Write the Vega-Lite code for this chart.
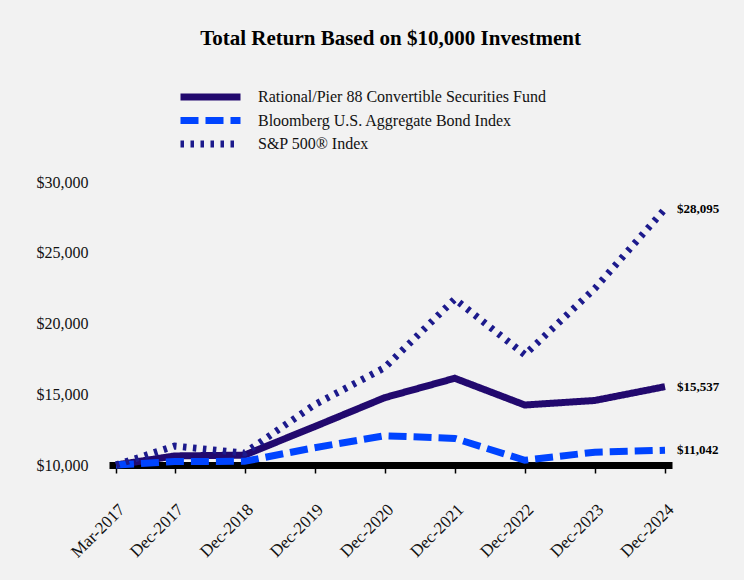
{
  "$schema": "https://vega.github.io/schema/vega-lite/v6.json",
  "width": 563,
  "height": 283,
  "autosize": "none",
  "padding": {"left": 109, "top": 182, "right": 72, "bottom": 115},
  "background": "#f2f2f2",
  "title": {"text": "Total Return Based on $10,000 Investment", "font": "Liberation Serif", "fontSize": 21, "fontWeight": "bold", "color": "#000000", "anchor": "middle", "offset": 40},
  "config": {"view": {"stroke": null}, "font": "Liberation Serif"},
  "data": {
    "format": {"parse": {"date": "date"}},
    "values": [
      {"date": "2017-03-01T00:00:00", "series": "Rational/Pier 88 Convertible Securities Fund", "value": 10000},
      {"date": "2017-12-31T00:00:00", "series": "Rational/Pier 88 Convertible Securities Fund", "value": 10640},
      {"date": "2018-12-31T00:00:00", "series": "Rational/Pier 88 Convertible Securities Fund", "value": 10700},
      {"date": "2019-12-31T00:00:00", "series": "Rational/Pier 88 Convertible Securities Fund", "value": 12710},
      {"date": "2020-12-31T00:00:00", "series": "Rational/Pier 88 Convertible Securities Fund", "value": 14760},
      {"date": "2021-12-31T00:00:00", "series": "Rational/Pier 88 Convertible Securities Fund", "value": 16130},
      {"date": "2022-12-31T00:00:00", "series": "Rational/Pier 88 Convertible Securities Fund", "value": 14240},
      {"date": "2023-12-31T00:00:00", "series": "Rational/Pier 88 Convertible Securities Fund", "value": 14560},
      {"date": "2024-12-31T00:00:00", "series": "Rational/Pier 88 Convertible Securities Fund", "value": 15537},
      {"date": "2017-03-01T00:00:00", "series": "Bloomberg U.S. Aggregate Bond Index", "value": 10000},
      {"date": "2017-12-31T00:00:00", "series": "Bloomberg U.S. Aggregate Bond Index", "value": 10250},
      {"date": "2018-12-31T00:00:00", "series": "Bloomberg U.S. Aggregate Bond Index", "value": 10260},
      {"date": "2019-12-31T00:00:00", "series": "Bloomberg U.S. Aggregate Bond Index", "value": 11223},
      {"date": "2020-12-31T00:00:00", "series": "Bloomberg U.S. Aggregate Bond Index", "value": 12066},
      {"date": "2021-12-31T00:00:00", "series": "Bloomberg U.S. Aggregate Bond Index", "value": 11880},
      {"date": "2022-12-31T00:00:00", "series": "Bloomberg U.S. Aggregate Bond Index", "value": 10334},
      {"date": "2023-12-31T00:00:00", "series": "Bloomberg U.S. Aggregate Bond Index", "value": 10906},
      {"date": "2024-12-31T00:00:00", "series": "Bloomberg U.S. Aggregate Bond Index", "value": 11042},
      {"date": "2017-03-01T00:00:00", "series": "S&P 500® Index", "value": 10000},
      {"date": "2017-12-31T00:00:00", "series": "S&P 500® Index", "value": 11340},
      {"date": "2018-12-31T00:00:00", "series": "S&P 500® Index", "value": 10844},
      {"date": "2019-12-31T00:00:00", "series": "S&P 500® Index", "value": 14258},
      {"date": "2020-12-31T00:00:00", "series": "S&P 500® Index", "value": 16882},
      {"date": "2021-12-31T00:00:00", "series": "S&P 500® Index", "value": 21729},
      {"date": "2022-12-31T00:00:00", "series": "S&P 500® Index", "value": 17794},
      {"date": "2023-12-31T00:00:00", "series": "S&P 500® Index", "value": 22472},
      {"date": "2024-12-31T00:00:00", "series": "S&P 500® Index", "value": 28095}
    ]
  },
  "encoding": {
    "x": {
      "field": "date", "type": "temporal",
      "scale": {"padding": 7},
      "axis": {
        "title": null, "grid": false, "zindex": 0,
        "domain": true, "domainColor": "#000000", "domainWidth": 7,
        "ticks": true, "tickColor": "#000000", "tickSize": 8, "tickWidth": 1.5,
        "labelAngle": -45, "labelFontSize": 17, "labelColor": "#111111", "labelPadding": 28,
        "labelOverlap": false,
        "format": "%b-%Y",
        "values": [
          {"year": 2017, "month": 3, "date": 1},
          {"year": 2017, "month": 12, "date": 31},
          {"year": 2018, "month": 12, "date": 31},
          {"year": 2019, "month": 12, "date": 31},
          {"year": 2020, "month": 12, "date": 31},
          {"year": 2021, "month": 12, "date": 31},
          {"year": 2022, "month": 12, "date": 31},
          {"year": 2023, "month": 12, "date": 31},
          {"year": 2024, "month": 12, "date": 31}
        ]
      }
    },
    "y": {
      "field": "value", "type": "quantitative",
      "scale": {"domain": [10000, 30000], "nice": false, "zero": false},
      "axis": {
        "title": null, "grid": false, "domain": false, "ticks": false,
        "values": [10000, 15000, 20000, 25000, 30000],
        "format": "$,.0f", "labelFontSize": 16, "labelColor": "#111111", "labelPadding": 21
      }
    }
  },
  "layer": [
    {
      "mark": {"type": "line", "strokeWidth": 7, "strokeCap": "butt", "clip": false},
      "encoding": {
        "color": {
          "field": "series", "type": "nominal",
          "scale": {
            "domain": ["Rational/Pier 88 Convertible Securities Fund", "Bloomberg U.S. Aggregate Bond Index", "S&P 500® Index"],
            "range": ["#22096e", "#0044ff", "#1c1a8c"]
          },
          "legend": {"orient": "none", "legendX": 68, "legendY": -93, "title": null, "symbolType": "stroke", "symbolSize": 3600, "symbolStrokeWidth": 7, "clipHeight": 16, "labelFontSize": 16, "labelFont": "Liberation Serif", "labelColor": "#111111", "labelOffset": 14, "rowPadding": 7.5, "labelLimit": 400}
        },
        "strokeDash": {
          "field": "series", "type": "nominal",
          "scale": {
            "domain": ["Rational/Pier 88 Convertible Securities Fund", "Bloomberg U.S. Aggregate Bond Index", "S&P 500® Index"],
            "range": [[1, 0], [18, 7], [3.5, 6.5]]
          },
          "legend": {"orient": "none", "legendX": 68, "legendY": -93, "title": null, "symbolType": "stroke", "symbolSize": 3600, "symbolStrokeWidth": 7, "clipHeight": 16, "labelFontSize": 16, "labelFont": "Liberation Serif", "labelColor": "#111111", "labelOffset": 14, "rowPadding": 7.5, "labelLimit": 400}
        }
      }
    },
    {
      "transform": [{"filter": "year(datum.date) == 2024"}],
      "mark": {"type": "text", "align": "left", "baseline": "middle", "dx": 12, "fontWeight": "bold", "fontSize": 13, "font": "Liberation Serif", "color": "#000000"},
      "encoding": {
        "text": {"field": "value", "type": "quantitative", "format": "$,.0f"}
      }
    }
  ]
}
